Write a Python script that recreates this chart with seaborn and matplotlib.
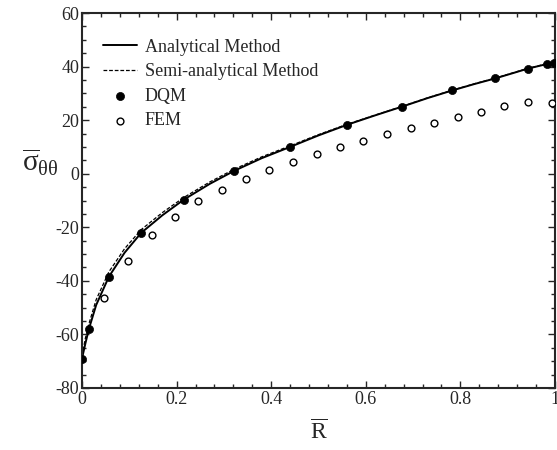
import numpy as np
import pandas as pd
import matplotlib
matplotlib.use('Agg')
import matplotlib.pyplot as plt
from matplotlib.ticker import MultipleLocator
import seaborn as sns

# analytical curve
r_ana = [0.0, 0.007, 0.0147, 0.03, 0.057, 0.09, 0.125, 0.17, 0.215, 0.27, 0.322, 0.38,
         0.44, 0.5, 0.561, 0.62, 0.676, 0.73, 0.783, 0.83, 0.874, 0.91, 0.942, 0.97, 0.984, 1.0]
s_ana = [-69.0, -63.5, -57.9, -49.0, -38.4, -29.5, -22.1, -15.5, -9.7, -3.8, 1.1, 5.8,
         10.0, 14.3, 18.3, 21.8, 25.0, 28.2, 31.1, 33.5, 35.6, 37.5, 39.2, 40.4, 41.0, 41.6]

# semi-analytical curve
r_semi = [0.0, 0.007, 0.0147, 0.03, 0.057, 0.09, 0.125, 0.17, 0.215, 0.27, 0.322, 0.38,
          0.44, 0.5, 0.561, 0.62, 0.676, 0.73, 0.783, 0.83, 0.874, 0.91, 0.942, 0.97, 0.984, 1.0]
s_semi = [-68.0, -61.5, -56.0, -47.0, -36.6, -28.0, -20.9, -14.5, -8.9, -3.1, 1.7, 6.3,
          10.4, 14.6, 18.5, 21.9, 25.1, 28.3, 31.2, 33.6, 35.7, 37.6, 39.3, 40.5, 41.1, 41.7]

# DQM points
r_dqm = [0.0, 0.0147, 0.057, 0.125, 0.215, 0.322, 0.44, 0.561, 0.676, 0.783, 0.874, 0.942, 0.984, 0.997]
s_dqm = [-69.1, -57.9, -38.4, -22.1, -9.7, 1.1, 10.0, 18.3, 25.0, 31.1, 35.6, 39.2, 40.8, 41.5]

# FEM points
r_fem = [0.047, 0.0975, 0.147, 0.197, 0.246, 0.297, 0.347, 0.396, 0.446, 0.496, 0.545,
         0.595, 0.645, 0.695, 0.744, 0.794, 0.844, 0.893, 0.943, 0.994]
s_fem = [-46.5, -32.6, -23.0, -16.0, -10.3, -5.9, -1.9, 1.4, 4.5, 7.3, 10.1,
         12.2, 14.8, 17.0, 19.1, 21.1, 23.1, 25.3, 26.9, 26.4]

sns.set_style('ticks')
plt.rcParams['font.family'] = ['Liberation Serif', 'DejaVu Serif']
plt.rcParams['mathtext.fontset'] = 'custom'
plt.rcParams['mathtext.rm'] = 'Liberation Serif'
plt.rcParams['mathtext.it'] = 'Liberation Serif'
plt.rcParams['axes.unicode_minus'] = False

fig = plt.figure(figsize=(5.57, 4.5), dpi=100)
ax = fig.add_axes([82 / 557, 62 / 450, 473 / 557, 375 / 450])

ana = pd.DataFrame({'R': r_ana, 'S': s_ana})
semi = pd.DataFrame({'R': r_semi, 'S': s_semi})
dqm = pd.DataFrame({'R': r_dqm, 'S': s_dqm})
fem = pd.DataFrame({'R': r_fem, 'S': s_fem})

sns.lineplot(data=ana, x='R', y='S', ax=ax, color='black', lw=1.4, label='Analytical Method')
sns.lineplot(data=semi, x='R', y='S', ax=ax, color='black', lw=0.9, label='Semi-analytical Method')
ax.lines[-1].set_dashes((3, 1.5))
sns.scatterplot(data=dqm, x='R', y='S', ax=ax, color='black', s=34, edgecolor='black',
                linewidth=0.5, label='DQM', zorder=3)
sns.scatterplot(data=fem, x='R', y='S', ax=ax, facecolor='white', s=24, edgecolor='black',
                linewidth=1.0, label='FEM', zorder=3)

ax.set_xlim(0, 1)
ax.set_ylim(-80, 60)
ax.xaxis.set_major_locator(MultipleLocator(0.2))
ax.xaxis.set_minor_locator(MultipleLocator(0.04))
ax.yaxis.set_major_locator(MultipleLocator(20))
ax.yaxis.set_minor_locator(MultipleLocator(5))
ax.set_xticks([0, 0.2, 0.4, 0.6, 0.8, 1.0])
ax.set_xticklabels(['0', '0.2', '0.4', '0.6', '0.8', '1'])
ax.tick_params(which='both', direction='in', top=True, right=True, width=1.0, labelsize=13, pad=2)
ax.tick_params(which='major', length=5)
ax.tick_params(which='minor', length=3)
for sp in ax.spines.values():
    sp.set_linewidth(1.5)
    sp.set_visible(True)

ax.set_xlabel(r'$\overline{\mathrm{R}}$', fontsize=17, labelpad=9)
ax.set_ylabel('$\\overline{\\mathrm{\u03c3}}_{\\mathrm{\u03b8\u03b8}}$', fontsize=21, rotation=0)
ax.yaxis.set_label_coords(-0.088, 0.56)

leg = ax.legend(loc='upper left', bbox_to_anchor=(0.01, 0.975), frameon=False, fontsize=13,
                handlelength=1.9, handletextpad=0.4, labelspacing=0.42, borderaxespad=0.5)

fig.savefig('out.png', dpi=100)
